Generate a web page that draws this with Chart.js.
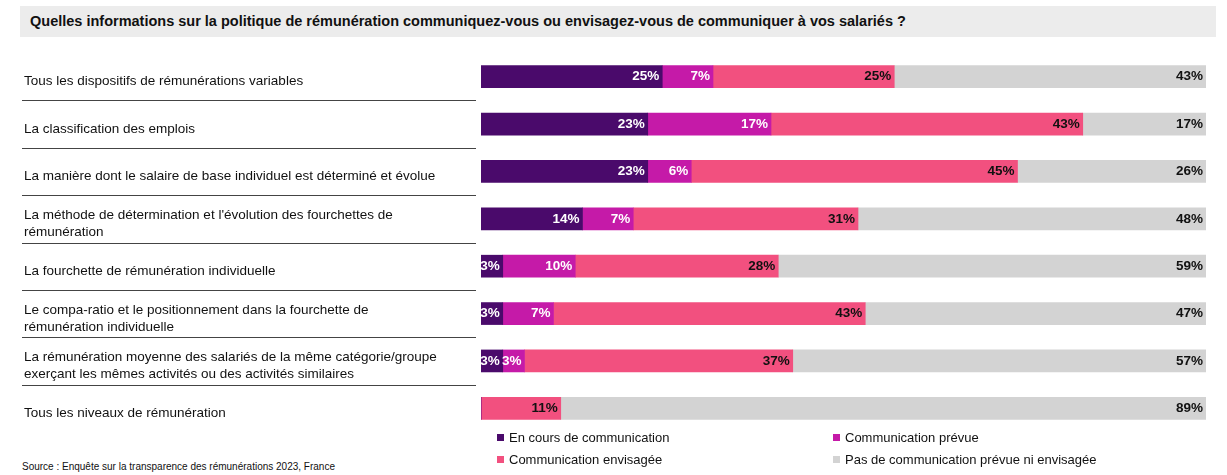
<!DOCTYPE html>
<html>
<head>
<meta charset="utf-8">
<script src="https://cdn.jsdelivr.net/npm/chart.js@4"></script>
<style>
  body { margin: 0; width: 1227px; height: 475px; background: #fff; font-family: "Liberation Sans", Arial, sans-serif; position: relative; overflow: hidden; }
  #title { position: absolute; left: 20px; top: 6px; width: 1196px; height: 31px; background: #ececec; font-weight: bold; font-size: 14.5px; line-height: 31px; padding-left: 10px; box-sizing: border-box; color: #111; }
  #wrap { position: absolute; left: 0; top: 50px; width: 1227px; height: 385px; }
  #legend { position: absolute; top: 430px; left: 0; font-size: 13px; color: #111; }
  .item { position: absolute; white-space: nowrap; }
  .item span { display: inline-block; width: 7px; height: 7px; margin-right: 5px; vertical-align: 1px; }
  #source { position: absolute; left: 22px; top: 461px; font-size: 10px; color: #111; }
</style>
</head>
<body>
<div id="title">Quelles informations sur la politique de rémunération communiquez-vous ou envisagez-vous de communiquer à vos salariés ?</div>
<div id="wrap"><canvas id="chart"></canvas></div>
<div id="legend"></div>
<div id="source">Source : Enquête sur la transparence des rémunérations 2023, France</div>
<script>
const categories = [
  ["Tous les dispositifs de rémunérations variables"],
  ["La classification des emplois"],
  ["La manière dont le salaire de base individuel est déterminé et évolue"],
  ["La méthode de détermination et l'évolution des fourchettes de", "rémunération"],
  ["La fourchette de rémunération individuelle"],
  ["Le compa-ratio et le positionnement dans la fourchette de", "rémunération individuelle"],
  ["La rémunération moyenne des salariés de la même catégorie/groupe", "exerçant les mêmes activités ou des activités similaires"],
  ["Tous les niveaux de rémunération"]
];
const enCours = [25, 23, 23, 14, 3, 3, 3, 0];
const prevue = [7, 17, 6, 7, 10, 7, 3, 0];
const envisagee = [25, 43, 45, 31, 28, 43, 37, 11];
const pas = [43, 17, 26, 48, 59, 47, 57, 89];
const seriesNames = ["En cours de communication", "Communication prévue", "Communication envisagée", "Pas de communication prévue ni envisagée"];
const colors = ["#4a0a6b", "#c51aa8", "#f2507f", "#d3d3d3"];
const labelColors = ["#fff", "#fff", "#111", "#111"];

const legendPos = [[497, 0], [833, 0], [497, 22], [833, 22]];
const legend = document.getElementById("legend");
seriesNames.forEach((n, i) => {
  const d = document.createElement("div");
  d.className = "item";
  d.style.left = legendPos[i][0] + "px";
  d.style.top = legendPos[i][1] + "px";
  d.innerHTML = '<span style="background:' + colors[i] + '"></span>' + n;
  legend.appendChild(d);
});

const rowDecor = {
  id: "rowDecor",
  afterDraw(chart) {
    const c = chart.ctx, y = chart.scales.y;
    c.save();
    c.font = "13.5px 'Liberation Sans', Arial, sans-serif";
    c.fillStyle = "#111";
    c.textBaseline = "middle";
    const step = y.getPixelForValue(1) - y.getPixelForValue(0);
    categories.forEach((lines, i) => {
      const cy = y.getPixelForValue(i) + 5;
      const lh = 17;
      lines.forEach((t, k) => {
        c.fillText(t, 24, cy + (k - (lines.length - 1) / 2) * lh);
      });
      if (i < categories.length - 1) {
        const ly = Math.round(y.getPixelForValue(i) + step / 2) + 0.5;
        c.strokeStyle = "#444";
        c.lineWidth = 1;
        c.beginPath();
        c.moveTo(22, ly);
        c.lineTo(476, ly);
        c.stroke();
      }
    });
    // values on bars
    c.font = "bold 13.5px 'Liberation Sans', Arial, sans-serif";
    c.textAlign = "right";
    chart.data.datasets.forEach((ds, di) => {
      chart.getDatasetMeta(di).data.forEach((bar, i) => {
        const v = ds.data[i];
        if (!v) return;
        c.fillStyle = labelColors[di];
        c.fillText(v + "%", bar.x - 3, bar.y);
      });
    });
    c.restore();
  }
};

new Chart(document.getElementById("chart"), {
  type: "bar",
  data: {
    labels: categories.map(l => l.join(" ")),
    datasets: [enCours, prevue, envisagee, pas].map((d, i) => ({
      label: seriesNames[i],
      data: d,
      backgroundColor: colors[i],
      borderWidth: 0,
      barThickness: 22
    }))
  },
  options: {
    indexAxis: "y",
    responsive: true,
    maintainAspectRatio: false,
    animation: false,
    layout: { padding: { left: 481, right: 21, top: 3, bottom: 3 } },
    plugins: { legend: { display: false }, tooltip: { enabled: false } },
    scales: {
      x: { stacked: true, min: 0, max: 100, display: false },
      y: { stacked: true, display: false }
    }
  },
  plugins: [rowDecor]
});
</script>
</body>
</html>
